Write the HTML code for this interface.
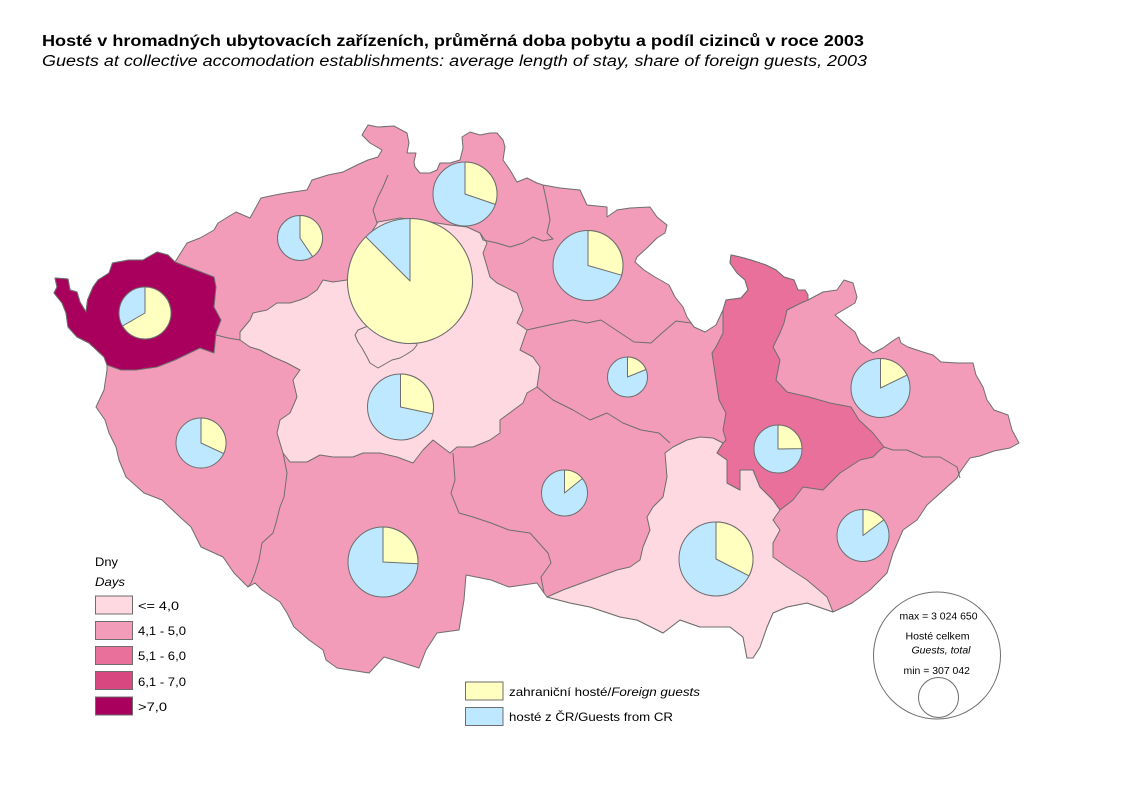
<!DOCTYPE html>
<html><head><meta charset="utf-8"><style>
html,body{margin:0;padding:0;background:#fff;}
svg{display:block;}
text{font-family:"Liberation Sans",Arial,sans-serif;fill:#000;}
</style></head><body>
<svg width="1123" height="794" viewBox="0 0 1123 794" xmlns="http://www.w3.org/2000/svg">
<rect width="1123" height="794" fill="#fff"/>
<text x="42" y="46" font-size="16" font-weight="bold" textLength="822" lengthAdjust="spacingAndGlyphs">Hosté v hromadných ubytovacích zařízeních, průměrná doba pobytu a podíl cizinců  v roce 2003</text>
<text x="42" y="66" font-size="15.5" font-style="italic" textLength="825" lengthAdjust="spacingAndGlyphs">Guests at collective accomodation establishments: average length of stay, share of foreign guests, 2003</text>

<g stroke="#6E6E6E" stroke-width="1" stroke-linejoin="round">
<!-- country outline -->
<polygon fill="#F29CBA" points="57,287 55,278 68,279 70,290 77,292 80,302 86,312 87.5,300 93,287 98,280 109,273 112.5,263 128.6,260 143,260 157,252 168,255 175,262 187,243 200,238 214,230 218,223 236,212 250,218 261,198 275,195 286,193 307,190 312,180 328,175 343,172 357,165 368,160 378,157 382,150 370,143 362,135 368,125 378,127 394,126 407,133 409,143 407,153 416,153 414,162 415,167 420,173 430,173 437,170 440,163 450,163 460,160 463,148 462,137 470,132 480,135 490,133 497,133 503,140 505,147 503,160 510,170 517,182 527,178 537,183 543,185 560,188 580,190 587,205 607,207 607,217 617,210 630,208 650,207 657,217 667,225 665,233 657,238 648,247 637,257 635,262 644,270 655,277 669,285 675,297 683,307 687,317 694,327 705,332 716,325 723,310 726,300 741,298 748,290 745,280 737,273 730,263 731,255 740,257 751,260 766,265 776,270 784,277 794,280 798,290 805,290 808,295 808,300 823,292 837,290 844,280 853,283 857,297 855,303 835,315 844,323 855,332 860,343 873,353 883,348 894,340 899,337 901,343 908,347 923,352 933,355 941,362 958,363 973,363 976,375 983,387 987,400 994,410 1008,415 1012,430 1019,443 1010,448 994,451 980,456 970,458 960,472 957,478 927,505 917,520 903,530 893,553 887,573 870,590 852,603 833,612 807,603 787,607 773,613 767,627 760,647 753,658 747,658 743,637 730,627 700,627 680,620 663,633 637,620 620,617 590,607 570,603 547,597 544,593 537,583 509,587 491,580 466,575 464,600 459,630 437,633 426,650 419,668 394,660 384,657 369,673 337,668 326,660 323,650 309,640 294,627 287,613 280,602 262,590 255,583 248,587 234,573 223,557 201,547 191,527 180,517 162,500 144,493 126,477 119,460 116,447 109,433 105,420 96,407 104,390 107,370 107,365 104,357 89,343 77,337 68,327 66,313 62,303 54,293"/>
<!-- Karlovy Vary -->
<polygon fill="#A8005C" points="57,287 55,278 68,279 70,290 77,292 80,302 86,312 87.5,300 93,287 98,280 109,273 112.5,263 128.6,260 143,260 157,252 168,255 175,262 196,270 214,277 216,287 214,307 221,320 216,333 214,353 200,348 175,360 157,367 136,370 121,370 107,365 104,357 89,343 77,337 68,327 66,313 62,303 54,293"/>
<!-- Stredocesky + Praha -->
<polygon fill="#FFD9E1" points="240,340 250,347 260,350 273,357 287,363 300,370 293,380 297,397 290,413 280,420 277,433 283,453 290,462 307,462 320,455 333,457 353,457 363,453 380,453 397,457 413,463 423,450 433,440 450,453 457,447 473,447 490,440 500,433 500,420 523,403 527,393 537,387 540,367 533,357 520,350 527,330 517,323 523,310 517,293 497,283 490,277 483,253 487,243 480,233 467,227 450,225 430,222 400,218 378,222 360,250 347,280 333,282 323,280 317,290 307,297 300,300 290,303 277,303 267,310 253,313 250,320 240,332"/>
<!-- Jihomoravsky -->
<polygon fill="#FFD9E1" points="547,597 563,590 590,580 617,570 630,567 640,560 643,547 650,530 647,517 653,507 663,497 667,477 665,453 673,447 687,440 700,437 713,438 723,443 717,453 727,460 727,483 740,490 740,470 753,470 760,487 773,500 780,510 773,520 780,530 773,543 773,557 787,567 807,580 827,597 833,612 807,603 787,607 773,613 767,627 760,647 753,658 747,658 743,637 730,627 700,627 680,620 663,633 637,620 620,617 590,607 570,603"/>
<!-- Olomoucky -->
<polygon fill="#E8709B" points="723,310 726,300 741,298 748,290 745,280 737,273 730,263 731,255 740,257 751,260 766,265 776,270 784,277 794,280 798,290 805,290 808,295 808,300 801,303 787,310 784,323 780,333 773,347 780,360 776,380 787,392 809,397 830,403 851,407 859,420 873,433 884,447 880,450 873,457 860,460 840,473 823,490 803,487 793,500 780,510 773,500 760,487 753,470 740,470 740,490 727,483 727,460 717,453 723,443 726,440 723,430 726,413 719,400 716,380 712,353 716,347 723,333"/>
<!-- internal boundaries -->
<g fill="none">
<polyline points="388,175 383,187 378,197 373,210 377,223"/>
<polyline points="543,185 547,203 550,220 547,233 553,239 543,241 533,237 523,243 510,247 497,243 483,240 480,233"/>
<polyline points="527,330 540,327 573,320 587,323 601,320 616,330 634,342 651,343 662,333 676,321 691,323 694,327"/>
<polyline points="537,387 553,400 573,410 590,420 607,413 623,423 641,430 659,433 670,443"/>
<polyline points="453,453 455,480 451,493 459,513 473,517 491,523 509,530 530,533 548,553 551,563 541,577 544,593"/>
<polyline points="283,453 287,473 284,497 280,507 276,523 273,533 262,543 259,560 255,573 251,583 248,587"/>
<polyline points="216,335 228,338 240,340"/>
<polyline points="884,447 893,450 907,450 923,457 940,457 957,467 960,478"/>
<polyline points="368,326 358,330 355,335 358,342 362,348 367,357 370,363 378,368 385,364 392,360 400,358 407,354 413,350 417,345 416,340"/>
</g>
</g>

<!-- pies -->
<g stroke="#6E6E6E" stroke-width="1" stroke-linejoin="round">
<circle cx="145" cy="313" r="26" fill="#BEE8FF"/>
<path fill="#FFFFC0" d="M145,313 L145,287 A26,26 0 1 1 122.5,326 Z"/>
<circle cx="300" cy="238" r="22.5" fill="#BEE8FF"/>
<path fill="#FFFFC0" d="M300,238 L300,215.5 A22.5,22.5 0 0 1 312.6,256.7 Z"/>
<circle cx="410" cy="281" r="62.5" fill="#BEE8FF"/>
<path fill="#FFFFC0" d="M410,281 L410,218.5 A62.5,62.5 0 1 1 365.8,236.8 Z"/>
<circle cx="465" cy="194" r="32" fill="#BEE8FF"/>
<path fill="#FFFFC0" d="M465,194 L465,162 A32,32 0 0 1 495.3,204.4 Z"/>
<circle cx="588" cy="265.5" r="35" fill="#BEE8FF"/>
<path fill="#FFFFC0" d="M588,265.5 L588,230.5 A35,35 0 0 1 621.6,275.2 Z"/>
<circle cx="400.5" cy="407" r="33" fill="#BEE8FF"/>
<path fill="#FFFFC0" d="M400.5,407 L400.5,374 A33,33 0 0 1 432.8,413.9 Z"/>
<circle cx="201" cy="443" r="25" fill="#BEE8FF"/>
<path fill="#FFFFC0" d="M201,443 L201,418 A25,25 0 0 1 223.7,453.6 Z"/>
<circle cx="383" cy="562" r="35" fill="#BEE8FF"/>
<path fill="#FFFFC0" d="M383,562 L383,527 A35,35 0 0 1 417.95,563.8 Z"/>
<circle cx="564.5" cy="493" r="23" fill="#BEE8FF"/>
<path fill="#FFFFC0" d="M564.5,493 L564.5,470 A23,23 0 0 1 582.4,478.5 Z"/>
<circle cx="627.5" cy="377" r="20" fill="#BEE8FF"/>
<path fill="#FFFFC0" d="M627.5,377 L627.5,357 A20,20 0 0 1 646,369.5 Z"/>
<circle cx="880.5" cy="388" r="29.5" fill="#BEE8FF"/>
<path fill="#FFFFC0" d="M880.5,388 L880.5,358.5 A29.5,29.5 0 0 1 907,375.1 Z"/>
<circle cx="778" cy="449" r="24" fill="#BEE8FF"/>
<path fill="#FFFFC0" d="M778,449 L778,425 A24,24 0 0 1 802,448.6 Z"/>
<circle cx="863" cy="535.5" r="26" fill="#BEE8FF"/>
<path fill="#FFFFC0" d="M863,535.5 L863,509.5 A26,26 0 0 1 883.8,519.9 Z"/>
<circle cx="716" cy="559" r="37" fill="#BEE8FF"/>
<path fill="#FFFFC0" d="M716,559 L716,522 A37,37 0 0 1 749,575.8 Z"/>
</g>

<!-- class legend -->
<text x="95" y="566" font-size="12" textLength="23" lengthAdjust="spacingAndGlyphs">Dny</text>
<text x="95" y="586" font-size="12" font-style="italic" textLength="30" lengthAdjust="spacingAndGlyphs">Days</text>
<g stroke="#6E6E6E" stroke-width="1">
<rect x="95.5" y="596" width="37" height="18" fill="#FFD9E1"/>
<rect x="95.5" y="621.5" width="37" height="18" fill="#F29CBA"/>
<rect x="95.5" y="646.5" width="37" height="18" fill="#E8709B"/>
<rect x="95.5" y="671.5" width="37" height="18" fill="#D94780"/>
<rect x="95.5" y="697" width="37" height="18" fill="#A8005C"/>
</g>
<text x="138" y="610" font-size="12" textLength="41" lengthAdjust="spacingAndGlyphs">&lt;=  4,0</text>
<text x="138" y="635" font-size="12" textLength="48" lengthAdjust="spacingAndGlyphs">4,1 - 5,0</text>
<text x="138" y="660" font-size="12" textLength="48" lengthAdjust="spacingAndGlyphs">5,1 - 6,0</text>
<text x="138" y="686" font-size="12" textLength="48" lengthAdjust="spacingAndGlyphs">6,1 - 7,0</text>
<text x="138" y="711" font-size="12" textLength="29" lengthAdjust="spacingAndGlyphs">&gt;7,0</text>

<!-- pie legend -->
<g stroke="#6E6E6E" stroke-width="1">
<rect x="465.5" y="682" width="37.5" height="18" fill="#FFFFC0"/>
<rect x="465.5" y="707.5" width="37.5" height="18" fill="#BEE8FF"/>
</g>
<text x="509" y="696" font-size="12" textLength="191" lengthAdjust="spacingAndGlyphs">zahraniční hosté/<tspan font-style="italic">Foreign guests</tspan></text>
<text x="509" y="721" font-size="12" textLength="164" lengthAdjust="spacingAndGlyphs">hosté z ČR/Guests from CR</text>

<!-- size legend -->
<g fill="none" stroke="#6E6E6E" stroke-width="1">
<circle cx="937" cy="655.5" r="63.5"/>
<circle cx="938.5" cy="697.5" r="20"/>
</g>
<text x="899.5" y="619.5" font-size="10" textLength="78" lengthAdjust="spacingAndGlyphs">max = 3 024 650</text>
<text x="905.5" y="639.5" font-size="10" textLength="64" lengthAdjust="spacingAndGlyphs">Hosté celkem</text>
<text x="911.5" y="653.5" font-size="10" font-style="italic" textLength="59" lengthAdjust="spacingAndGlyphs">Guests, total</text>
<text x="903.5" y="674" font-size="10" textLength="66.5" lengthAdjust="spacingAndGlyphs">min = 307 042</text>
</svg>
</body></html>
